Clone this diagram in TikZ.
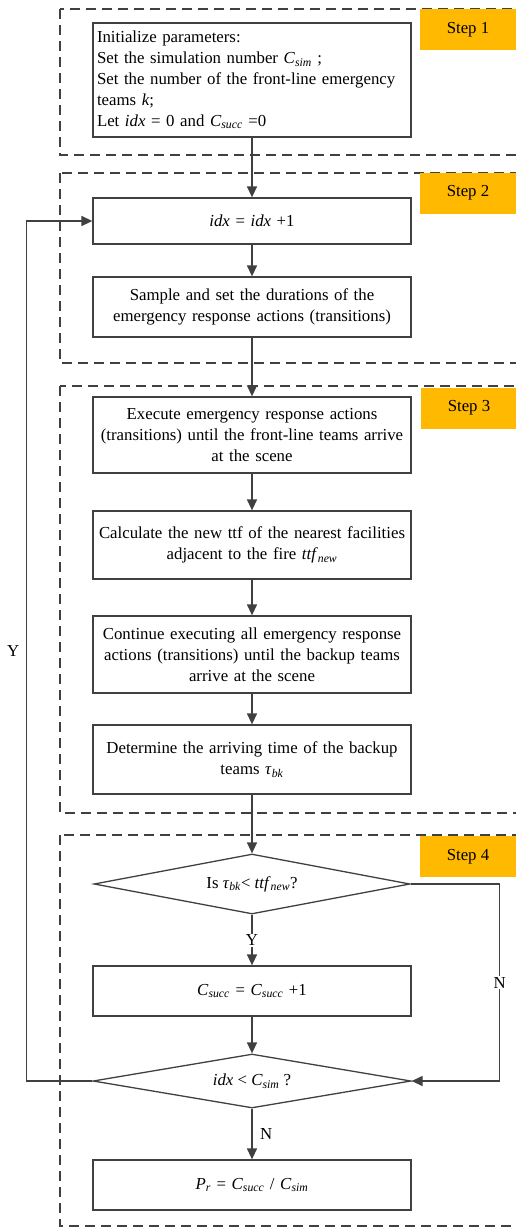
\documentclass[tikz,border=0pt]{standalone}
\usepackage{fontspec}
\setmainfont{Liberation Serif}
\usetikzlibrary{shapes.geometric,arrows.meta}
\definecolor{stepfill}{HTML}{FFB900}
\definecolor{linegray}{HTML}{404040}
\newcommand{\subvar}[2]{\textit{#1}\textsubscript{\textit{#2}}}

\begin{document}
\begin{tikzpicture}[x=1pt,y=-1pt,
  font=\fontsize{16.8}{20.8}\selectfont,
  proc/.style={draw=linegray,line width=1.3pt,fill=white,inner sep=4pt,
    text width=310pt,align=center},
  decision/.style={diamond,draw=linegray,line width=1.3pt,fill=white,
    inner sep=0pt,aspect=5.5,minimum width=316pt},
  arr/.style={draw=linegray,line width=1.4pt,-{Triangle[length=11pt,width=10pt]}},
  frame/.style={draw=linegray,line width=1.2pt,dash pattern=on 10pt off 6pt},
  steplabel/.style={fill=stepfill,minimum width=96pt,minimum height=41pt,inner sep=0pt}]
  \useasboundingbox (0,0) rectangle (516,1228);
  \clip (0,0) rectangle (516,1228);

  % Step frames
  \draw[frame] (60,9) rectangle (540,155);
  \draw[frame] (60,173) rectangle (540,363);
  \draw[frame] (60,386) rectangle (540,813);
  \draw[frame] (60,835) rectangle (540,1226);

  % Step labels
  \node[steplabel] (s1) at (468,29.5) {Step 1};
  \node[steplabel] (s2) at (468,193) {Step 2};
  \node[steplabel] (s3) at (469,408) {Step 3};
  \node[steplabel] (s4) at (468,856.5) {Step 4};

  % Boxes
  \node[proc,minimum height=114pt,align=left] (init) at (252,80)
    {Initialize parameters:\\
     Set the simulation number \subvar{C}{sim} ;\\
     Set the number of the front-line emergency\\
     teams \textit{k};\\
     Let \textit{idx} = 0 and \subvar{C}{succ} =0};
  \node[proc,minimum height=46pt] (incr) at (252,221) {\textit{idx} = \textit{idx} +1};
  \node[proc,minimum height=60pt] (sample) at (252,307)
    {Sample and set the durations of the\\ emergency response actions (transitions)};
  \node[proc,minimum height=76pt] (execute) at (252,435)
    {Execute emergency response actions\\ (transitions) until the front-line teams arrive\\ at the scene};
  \node[proc,minimum height=68pt] (calc) at (252,545)
    {Calculate the new ttf of the nearest facilities\\ adjacent to the fire \subvar{ttf}{new}};
  \node[proc,minimum height=77pt] (cont) at (252,654.5)
    {Continue executing all emergency response\\ actions (transitions) until the backup teams\\ arrive at the scene};
  \node[proc,minimum height=69pt] (determine) at (252,759.5)
    {Determine the arriving time of the backup\\ teams \subvar{τ}{bk}};
  \node[decision,minimum height=60pt] (check) at (252,884)
    {Is \subvar{τ}{bk}< \subvar{ttf}{new}?};
  \node[proc,minimum height=50pt] (succ) at (252,991)
    {\subvar{C}{succ} = \subvar{C}{succ} +1};
  \node[decision,minimum height=54pt,minimum width=318pt] (loop) at (252,1081)
    {\textit{idx} < \subvar{C}{sim} ?};
  \node[proc,minimum height=50pt] (result) at (252,1185)
    {\subvar{P}{r} = \subvar{C}{succ} / \subvar{C}{sim}};

  % Connectors
  \draw[arr] (init) -- (incr);
  \draw[arr] (incr) -- (sample);
  \draw[arr] (sample) -- (execute);
  \draw[arr] (execute) -- (calc);
  \draw[arr] (calc) -- (cont);
  \draw[arr] (cont) -- (determine);
  \draw[arr] (determine) -- (check);
  \draw[arr] (check) -- node[fill=white,inner sep=1pt] {Y} (succ);
  \draw[arr] (succ) -- (loop);
  \draw[arr] (loop) -- node[right=4pt] {N} (result);

  % Branches
  \draw[arr] (check.east) -- ++(89,0) |- node[pos=0.25,fill=white,inner sep=1pt] {N} (loop.east);
  \draw[arr] (loop.west) -- ++(-66,0) |- node[pos=0.25,left=3pt] {Y} (incr.west);
\end{tikzpicture}
\end{document}
